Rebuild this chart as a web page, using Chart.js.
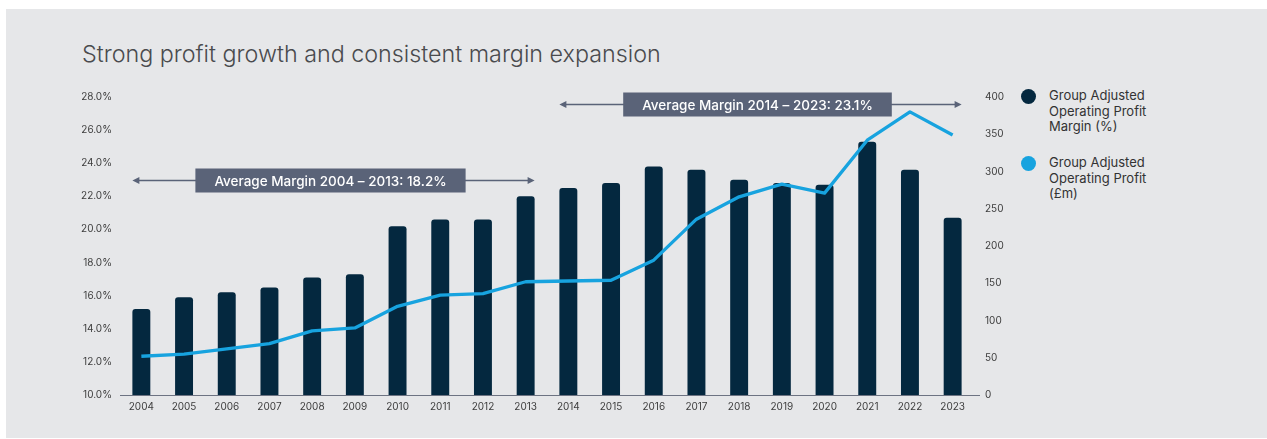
<!DOCTYPE html>
<html>
<head>
<meta charset="utf-8">
<script src="https://cdn.jsdelivr.net/npm/chart.js@4.4.1/dist/chart.umd.min.js"></script>
<style>
  body { margin: 0; background: #fff; font-family: Inter, "Noto Sans", sans-serif; }
  #panel { position: absolute; left: 6px; top: 9px; width: 1261px; height: 429px; background: #e6e7e9; }
  #title { position: absolute; left: 76px; top: 30px; font-size: 23.3px; font-weight: 300; color: #4a4b4e; white-space: nowrap; }
  #wrap { position: absolute; left: 54px; top: 71px; width: 960px; height: 340px; }
  .legend { position: absolute; left: 1043px; font-size: 13px; line-height: 15.6px; color: #333; }
  .legend .dot { position: absolute; left: -28px; top: 1px; width: 15px; height: 15px; border-radius: 50%; }
</style>
</head>
<body>
<div id="panel">
  <div id="title">Strong profit growth and consistent margin expansion</div>
  <div id="wrap"><canvas id="chart"></canvas></div>
  <div class="legend" style="top:79px"><span class="dot" style="background:#04283f"></span>Group Adjusted<br>Operating Profit<br>Margin (%)</div>
  <div class="legend" style="top:146px"><span class="dot" style="background:#17a3df"></span>Group Adjusted<br>Operating Profit<br>(£m)</div>
</div>
<script>
const years = ["2004", "2005", "2006", "2007", "2008", "2009", "2010", "2011", "2012", "2013",
  "2014", "2015", "2016", "2017", "2018", "2019", "2020", "2021", "2022", "2023"];
const marginPct = [15.2, 15.9, 16.2, 16.5, 17.1, 17.3, 20.2, 20.6, 20.6, 22.0,
  22.5, 22.8, 23.8, 23.6, 23.0, 22.8, 22.7, 25.3, 23.6, 20.7];
const profitGbpM = [52, 55, 62, 69, 86, 90, 119, 134, 136, 152,
  153, 154, 181, 236, 266, 283, 271, 342, 380, 349];
const marginTicks = [10, 12, 14, 16, 18, 20, 22, 24, 26, 28];
const profitTicks = [0, 50, 100, 150, 200, 250, 300, 350, 400];
const periods = [
  { from: "2004", to: "2013", text: "Average Margin 2004 \u2013 2013: 18.2%", level: 23.0 },
  { from: "2014", to: "2023", text: "Average Margin 2014 \u2013 2023: 23.1%", level: 27.6 },
];

const navy = "#04283f";
const blue = "#17a3df";
const slate = "#5a6378";
const tickFont = { family: "Inter", size: 10 };

// arrows + boxes for the average margin periods, plus the base line
const overlay = {
  id: "overlay",
  afterDatasetsDraw(chart) {
    const { ctx, chartArea, scales } = chart;
    const bars = chart.getDatasetMeta(1).data;
    ctx.save();
    ctx.strokeStyle = "#6d7382";
    ctx.lineWidth = 1;
    ctx.beginPath();
    ctx.moveTo(chartArea.left, chartArea.bottom + 0.5);
    ctx.lineTo(chartArea.right + 6, chartArea.bottom + 0.5);
    ctx.stroke();

    ctx.font = "500 13.5px Inter";
    periods.forEach((p) => {
      const a = bars[years.indexOf(p.from)];
      const b = bars[years.indexOf(p.to)];
      const x1 = a.x - a.width / 2;
      const x2 = b.x + b.width / 2;
      const y = Math.round(scales.y.getPixelForValue(p.level)) + 0.5;
      ctx.strokeStyle = slate;
      ctx.fillStyle = slate;
      ctx.lineWidth = 1.3;
      ctx.beginPath();
      ctx.moveTo(x1 + 4, y);
      ctx.lineTo(x2 - 4, y);
      ctx.stroke();
      [[x1, 1], [x2, -1]].forEach(([x, d]) => {
        ctx.beginPath();
        ctx.moveTo(x, y);
        ctx.lineTo(x + 7 * d, y - 3.5);
        ctx.lineTo(x + 7 * d, y + 3.5);
        ctx.closePath();
        ctx.fill();
      });
      const w = ctx.measureText(p.text).width + 38;
      const cx = (x1 + x2) / 2 - 3;
      ctx.fillRect(cx - w / 2, y - 12, w, 24);
      ctx.fillStyle = "#fff";
      ctx.textAlign = "center";
      ctx.textBaseline = "middle";
      ctx.fillText(p.text, cx, y + 1);
    });
    ctx.restore();
  },
};

new Chart(document.getElementById("chart"), {
  type: "bar",
  data: {
    labels: years,
    datasets: [
      {
        type: "line",
        label: "Group Adjusted Operating Profit (£m)",
        data: profitGbpM,
        yAxisID: "y2",
        borderColor: blue,
        borderWidth: 3.3,
        pointRadius: 0,
        tension: 0,
        borderJoinStyle: "round",
        order: 0,
      },
      {
        label: "Group Adjusted Operating Profit Margin (%)",
        data: marginPct,
        yAxisID: "y",
        backgroundColor: navy,
        categoryPercentage: 1,
        barPercentage: 0.42,
        borderRadius: { topLeft: 3, topRight: 3 },
        borderSkipped: "bottom",
        order: 1,
      },
    ],
  },
  options: {
    responsive: true,
    maintainAspectRatio: false,
    animation: false,
    layout: { padding: { top: 16 } },
    plugins: { legend: { display: false }, tooltip: { enabled: false } },
    scales: {
      x: {
        grid: { display: false, drawTicks: false },
        border: { display: false },
        ticks: { color: "#3d3d3d", font: tickFont, padding: 6, maxRotation: 0 },
        afterFit: (s) => { s.height = 25; },
      },
      y: {
        position: "left",
        min: 10,
        max: 28,
        afterBuildTicks: (s) => { s.ticks = marginTicks.map((v) => ({ value: v })); },
        grid: { display: false, drawTicks: false },
        border: { display: false },
        ticks: { color: "#3d3d3d", font: tickFont, padding: 8, callback: (v) => v.toFixed(1) + "%" },
        afterFit: (s) => { s.width = 60; },
      },
      y2: {
        position: "right",
        min: 0,
        max: 400,
        afterBuildTicks: (s) => { s.ticks = profitTicks.map((v) => ({ value: v })); },
        grid: { display: false, drawTicks: false },
        border: { display: false },
        ticks: { color: "#3d3d3d", font: tickFont, padding: 11 },
        afterFit: (s) => { s.width = 46; },
      },
    },
  },
  plugins: [overlay],
});
</script>
</body>
</html>
